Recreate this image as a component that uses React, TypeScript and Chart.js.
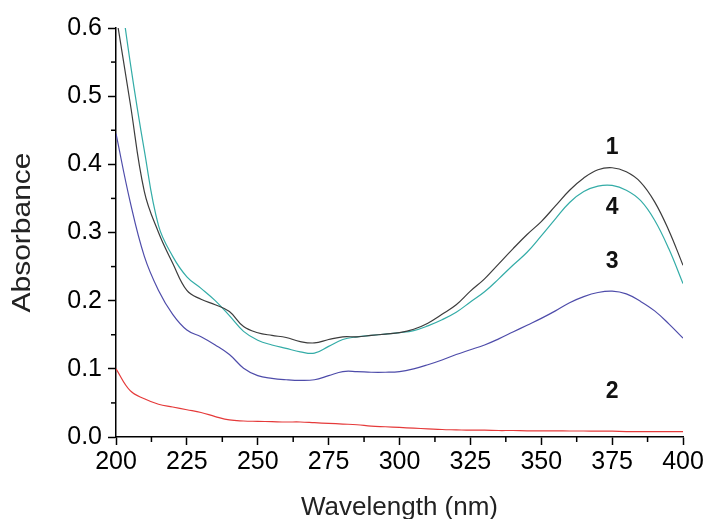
import React, { useEffect, useRef } from "react";
import { Chart, registerables } from "chart.js";

Chart.register(...registerables);

const wavelengths = [200,205,210,215,220,225,230,235,240,245,250,255,260,265,270,275,280,285,290,295,300,305,310,315,320,325,330,335,340,345,350,355,360,365,370,375,380,385,390,395,400];

const series1 = [0.62,0.49,0.36,0.30,0.255,0.215,0.202,0.194,0.184,0.162,0.153,0.149,0.146,0.140,0.138,0.143,0.147,0.147,0.149,0.151,0.153,0.158,0.167,0.180,0.194,0.214,0.232,0.254,0.276,0.297,0.316,0.339,0.362,0.380,0.392,0.395,0.389,0.374,0.345,0.303,0.252];
const series2 = [0.100,0.068,0.056,0.048,0.044,0.040,0.036,0.030,0.025,0.0235,0.023,0.0225,0.022,0.022,0.021,0.020,0.019,0.018,0.016,0.015,0.014,0.013,0.012,0.011,0.0105,0.010,0.010,0.0095,0.0095,0.009,0.009,0.009,0.0088,0.0088,0.0085,0.0085,0.008,0.008,0.008,0.008,0.008];
const series3 = [0.445,0.345,0.265,0.215,0.180,0.157,0.147,0.135,0.121,0.101,0.090,0.086,0.084,0.083,0.084,0.090,0.096,0.096,0.095,0.095,0.096,0.100,0.106,0.113,0.121,0.128,0.135,0.144,0.154,0.164,0.174,0.185,0.197,0.206,0.212,0.214,0.210,0.199,0.185,0.166,0.145];
const series4 = [0.70,0.55,0.42,0.31,0.265,0.235,0.218,0.200,0.178,0.155,0.142,0.135,0.130,0.125,0.123,0.133,0.143,0.147,0.149,0.151,0.153,0.156,0.163,0.172,0.183,0.198,0.213,0.232,0.252,0.271,0.295,0.320,0.344,0.360,0.368,0.369,0.362,0.347,0.318,0.276,0.225];

const seriesNames = ["1", "2", "3", "4"];
const seriesColors = ["#3c3c3c", "#e53a3a", "#4e4caa", "#33aca7"];

const curveLabels = ["1", "4", "3", "2"];
const curveLabelX = [375, 375, 375, 375];
const curveLabelY = [0.424, 0.337, 0.257, 0.066];

const xTicksMajor = [200, 225, 250, 275, 300, 325, 350, 375, 400];
const yTitle = "Absorbance";
const xTitle = "Wavelength (nm)";
const FONT = '"Liberation Sans", Arial, sans-serif';

const extrasPlugin = {
  id: "extras",
  afterDraw(chart: any) {
    const ctx = chart.ctx;
    const xs = chart.scales.x;
    const ys = chart.scales.y;
    ctx.save();
    ctx.strokeStyle = "#000";
    ctx.lineWidth = 1.5;
    for (let i = 0; i < xTicksMajor.length - 1; i++) {
      const v = (xTicksMajor[i] + xTicksMajor[i + 1]) / 2;
      const px = xs.getPixelForValue(v);
      ctx.beginPath();
      ctx.moveTo(px, ys.bottom);
      ctx.lineTo(px, ys.bottom + 5);
      ctx.stroke();
    }
    for (let v = 0.05; v < 0.6; v += 0.1) {
      const py = ys.getPixelForValue(v);
      ctx.beginPath();
      ctx.moveTo(xs.left, py);
      ctx.lineTo(xs.left - 5, py);
      ctx.stroke();
    }
    // curve labels
    ctx.fillStyle = "#111";
    ctx.font = `bold 23px ${FONT}`;
    ctx.textAlign = "center";
    ctx.textBaseline = "middle";
    for (let i = 0; i < curveLabels.length; i++) {
      ctx.fillText(curveLabels[i], xs.getPixelForValue(curveLabelX[i]), ys.getPixelForValue(curveLabelY[i]));
    }
    // y axis title (slightly wide lettering as in the reference)
    const cy = (ys.top + ys.bottom) / 2;
    ctx.translate(ys.left + 23, cy);
    ctx.rotate(-Math.PI / 2);
    ctx.scale(1.2, 1);
    ctx.fillStyle = "#222";
    ctx.font = `25px ${FONT}`;
    ctx.fillText(yTitle, 0, 0);
    ctx.restore();
  },
};

export default function App() {
  const ref = useRef<HTMLCanvasElement>(null);
  useEffect(() => {
    if (!ref.current) return;
    const all = [series1, series2, series3, series4];
    const chart = new Chart(ref.current, {
      type: "line",
      data: {
        datasets: all.map((s, i) => ({
          label: seriesNames[i],
          data: wavelengths.map((w, j) => ({ x: w, y: s[j] })),
          borderColor: seriesColors[i],
          borderWidth: 1.2,
          pointRadius: 0,
          tension: 0.4,
          fill: false,
        })),
      },
      options: {
        animation: false,
        responsive: false,
        maintainAspectRatio: false,
        layout: { padding: { top: 28, right: 24, left: 0, bottom: 0 } },
        plugins: { legend: { display: false }, tooltip: { enabled: false } },
        scales: {
          x: {
            type: "linear",
            min: 200,
            max: 400,
            afterFit: (s: any) => { s.height = 82; },
            border: { display: true, color: "#000", width: 1.5 },
            grid: { display: true, drawOnChartArea: false, drawTicks: true, tickLength: 8, tickColor: "#000", tickWidth: 1.5 },
            ticks: { stepSize: 25, color: "#000", font: { family: FONT, size: 25 }, padding: 2, maxRotation: 0 },
            title: { display: true, text: xTitle, color: "#222", font: { family: FONT, size: 26 }, padding: { top: 0, bottom: -4 } },
          },
          y: {
            type: "linear",
            min: 0,
            max: 0.6,
            afterFit: (s: any) => { s.width = 116; },
            border: { display: true, color: "#000", width: 1.5 },
            grid: { display: true, drawOnChartArea: false, drawTicks: true, tickLength: 8, tickColor: "#000", tickWidth: 1.5 },
            ticks: { stepSize: 0.1, color: "#000", font: { family: FONT, size: 25 }, padding: 6, callback: (v: any) => Number(v).toFixed(1) },
            title: { display: false },
          },
        },
      },
      plugins: [extrasPlugin],
    });
    return () => chart.destroy();
  }, []);
  return (
    <div style={{ position: "fixed", left: 0, top: 0, width: 707, height: 519, background: "#fff" }}>
      <canvas ref={ref} width={707} height={519} style={{ width: 707, height: 519 }} />
    </div>
  );
}
